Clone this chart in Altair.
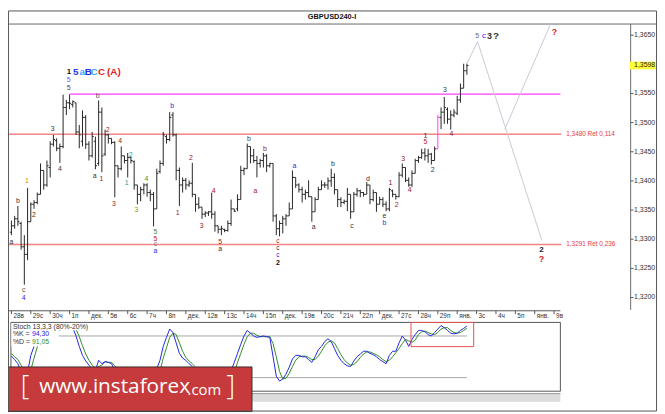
import altair as alt
import pandas as pd

W, H = 657, 406
SX, SY = W / 665.0, H / 414.0


def px(x):
    return round(x * SX, 2)


def py(y):
    return round(y * SY, 2)


FONT = "Liberation Sans"

# ---------------- data ----------------
HIGH = [1.3332, 1.3340, 1.3357, 1.3330, 1.3307, 1.3388, 1.3363, 1.3367, 1.3380, 1.3430,
        1.3418, 1.3435, 1.3468, 1.3479, 1.3473, 1.3464, 1.3548, 1.3539, 1.3548, 1.3538,
        1.3534, 1.3496, 1.3521, 1.3513, 1.3468, 1.3484, 1.3476, 1.3538, 1.3526, 1.3488,
        1.3481, 1.3473, 1.3468, 1.3426, 1.3459, 1.3443, 1.3448, 1.3441, 1.3435, 1.3393,
        1.3390, 1.3396, 1.3396, 1.3385, 1.3381, 1.3421, 1.3435, 1.3484, 1.3479, 1.3518,
        1.3518, 1.3481, 1.3423, 1.3406, 1.3405, 1.3401, 1.3431, 1.3377, 1.3372, 1.3355,
        1.3348, 1.3348, 1.3380, 1.3348, 1.3323, 1.3323, 1.3318, 1.3332, 1.3368, 1.3352,
        1.3377, 1.3426, 1.3423, 1.3464, 1.3459, 1.3455, 1.3443, 1.3438, 1.3448, 1.3446,
        1.3431, 1.3430, 1.3343, 1.3332, 1.3340, 1.3343, 1.3363, 1.3418, 1.3406, 1.3396,
        1.3390, 1.3385, 1.3401, 1.3373, 1.3372, 1.3390, 1.3401, 1.3398, 1.3406, 1.3421,
        1.3413, 1.3385, 1.3372, 1.3368, 1.3388, 1.3377, 1.3381, 1.3388, 1.3385, 1.3381,
        1.3398, 1.3393, 1.3385, 1.3380, 1.3373, 1.3372, 1.3365, 1.3388, 1.3385, 1.3377,
        1.3415, 1.3430, 1.3423, 1.3406, 1.3418, 1.3438, 1.3443, 1.3455, 1.3456, 1.3455,
        1.3448, 1.3459, 1.3513, 1.3526, 1.3544, 1.3526, 1.3521, 1.3523, 1.3546, 1.3567,
        1.3601, 1.3601]
LOW = [1.3307, 1.3318, 1.3323, 1.3282, 1.3222, 1.3264, 1.3330, 1.3352, 1.3360, 1.3377,
       1.3385, 1.3390, 1.3406, 1.3459, 1.3451, 1.3431, 1.3456, 1.3513, 1.3523, 1.3526,
       1.3479, 1.3456, 1.3459, 1.3455, 1.3435, 1.3440, 1.3420, 1.3426, 1.3415, 1.3443,
       1.3464, 1.3463, 1.3372, 1.3406, 1.3418, 1.3430, 1.3406, 1.3430, 1.3385, 1.3360,
       1.3365, 1.3377, 1.3373, 1.3365, 1.3322, 1.3352, 1.3413, 1.3426, 1.3464, 1.3468,
       1.3476, 1.3401, 1.3357, 1.3380, 1.3385, 1.3390, 1.3372, 1.3347, 1.3352, 1.3335,
       1.3338, 1.3340, 1.3335, 1.3313, 1.3310, 1.3307, 1.3312, 1.3313, 1.3323, 1.3347,
       1.3348, 1.3368, 1.3410, 1.3421, 1.3430, 1.3431, 1.3406, 1.3423, 1.3423, 1.3415,
       1.3423, 1.3330, 1.3307, 1.3305, 1.3310, 1.3323, 1.3340, 1.3352, 1.3388, 1.3380,
       1.3363, 1.3368, 1.3372, 1.3330, 1.3347, 1.3368, 1.3385, 1.3388, 1.3385, 1.3390,
       1.3377, 1.3355, 1.3355, 1.3360, 1.3348, 1.3335, 1.3347, 1.3373, 1.3372, 1.3373,
       1.3377, 1.3360, 1.3365, 1.3347, 1.3360, 1.3355, 1.3348, 1.3348, 1.3372, 1.3368,
       1.3372, 1.3406, 1.3398, 1.3390, 1.3390, 1.3413, 1.3431, 1.3438, 1.3435, 1.3431,
       1.3428, 1.3435, 1.3455, 1.3489, 1.3498, 1.3498, 1.3488, 1.3509, 1.3513, 1.3534,
       1.3559, 1.3582]
OPEN = [1.3312, 1.3323, 1.3335, 1.3327, 1.3287, 1.3274, 1.3330, 1.3360, 1.3363, 1.3377,
        1.3418, 1.3393, 1.3423, 1.3463, 1.3469, 1.3456, 1.3459, 1.3526, 1.3534, 1.3531,
        1.3534, 1.3484, 1.3468, 1.3509, 1.3463, 1.3443, 1.3468, 1.3430, 1.3518, 1.3446,
        1.3479, 1.3473, 1.3466, 1.3426, 1.3421, 1.3443, 1.3435, 1.3440, 1.3433, 1.3393,
        1.3377, 1.3385, 1.3393, 1.3380, 1.3377, 1.3352, 1.3416, 1.3430, 1.3476, 1.3471,
        1.3513, 1.3479, 1.3418, 1.3393, 1.3401, 1.3393, 1.3396, 1.3377, 1.3360, 1.3355,
        1.3343, 1.3345, 1.3347, 1.3343, 1.3323, 1.3317, 1.3317, 1.3315, 1.3327, 1.3352,
        1.3352, 1.3368, 1.3418, 1.3421, 1.3459, 1.3443, 1.3435, 1.3430, 1.3435, 1.3443,
        1.3426, 1.3430, 1.3340, 1.3318, 1.3327, 1.3335, 1.3340, 1.3352, 1.3406, 1.3393,
        1.3385, 1.3377, 1.3380, 1.3373, 1.3347, 1.3368, 1.3385, 1.3393, 1.3393, 1.3400,
        1.3406, 1.3385, 1.3368, 1.3363, 1.3365, 1.3377, 1.3347, 1.3377, 1.3383, 1.3380,
        1.3377, 1.3393, 1.3368, 1.3380, 1.3360, 1.3368, 1.3360, 1.3352, 1.3383, 1.3377,
        1.3373, 1.3410, 1.3423, 1.3401, 1.3393, 1.3413, 1.3435, 1.3440, 1.3448, 1.3443,
        1.3446, 1.3435, 1.3455, 1.3509, 1.3518, 1.3523, 1.3506, 1.3513, 1.3516, 1.3539,
        1.3559, 1.3589]
CLOSE = [1.3323, 1.3335, 1.3330, 1.3287, 1.3274, 1.3330, 1.3360, 1.3363, 1.3377, 1.3418,
         1.3393, 1.3426, 1.3463, 1.3471, 1.3456, 1.3459, 1.3526, 1.3534, 1.3533, 1.3536,
         1.3484, 1.3479, 1.3509, 1.3463, 1.3443, 1.3476, 1.3426, 1.3518, 1.3443, 1.3479,
         1.3473, 1.3466, 1.3426, 1.3421, 1.3443, 1.3435, 1.3440, 1.3435, 1.3393, 1.3377,
         1.3385, 1.3393, 1.3380, 1.3377, 1.3352, 1.3413, 1.3430, 1.3479, 1.3471, 1.3509,
         1.3479, 1.3418, 1.3393, 1.3401, 1.3393, 1.3396, 1.3377, 1.3360, 1.3355, 1.3343,
         1.3345, 1.3347, 1.3343, 1.3323, 1.3317, 1.3318, 1.3315, 1.3327, 1.3352, 1.3348,
         1.3368, 1.3418, 1.3421, 1.3459, 1.3443, 1.3435, 1.3430, 1.3435, 1.3443, 1.3426,
         1.3430, 1.3340, 1.3318, 1.3327, 1.3335, 1.3340, 1.3352, 1.3406, 1.3393, 1.3385,
         1.3377, 1.3380, 1.3373, 1.3347, 1.3368, 1.3385, 1.3393, 1.3393, 1.3400, 1.3406,
         1.3385, 1.3368, 1.3363, 1.3365, 1.3377, 1.3347, 1.3377, 1.3383, 1.3380, 1.3377,
         1.3393, 1.3368, 1.3380, 1.3360, 1.3368, 1.3360, 1.3352, 1.3385, 1.3377, 1.3373,
         1.3410, 1.3423, 1.3401, 1.3393, 1.3413, 1.3435, 1.3440, 1.3448, 1.3443, 1.3446,
         1.3435, 1.3455, 1.3509, 1.3518, 1.3526, 1.3506, 1.3513, 1.3518, 1.3539, 1.3559,
         1.3589, 1.3598]
MARKED_BAR = 132

STOCH_K = [51, 46, 40, 28, 12, 28, 52, 65, 75, 85,
           88, 92, 96, 97, 93, 88, 95, 97, 97, 92,
           80, 65, 52, 44, 38, 33, 30, 45, 40, 43,
           42, 40, 30, 28, 35, 33, 30, 32, 25, 15,
           15, 18, 20, 18, 12, 33, 45, 65, 78, 90,
           85, 70, 55, 48, 45, 40, 36, 30, 25, 20,
           12, 12, 14, 20, 12, 8, 6, 8, 30, 42,
           55, 68, 80, 88, 84, 80, 78, 79, 80, 79,
           78, 50, 22, 15, 18, 25, 35, 47, 52, 52,
           50, 50, 46, 42, 50, 60, 65, 72, 76, 72,
           62, 52, 45, 40, 37, 36, 44, 50, 54, 58,
           58, 55, 53, 50, 46, 43, 40, 52, 58, 58,
           70, 80, 74, 65, 75, 82, 88, 88, 86, 82,
           80, 85, 90, 95, 92, 88, 84, 83, 84, 88,
           91, 94.3]
STOCH_D = [55, 50, 46, 38, 27, 23, 31, 48, 64, 75,
           83, 88, 92, 95, 95, 93, 92, 93, 96, 95,
           90, 79, 66, 54, 45, 38, 34, 36, 38, 43,
           42, 42, 37, 33, 31, 32, 33, 32, 29, 24,
           18, 16, 18, 19, 17, 21, 30, 48, 63, 78,
           84, 82, 70, 58, 49, 44, 40, 35, 30, 25,
           19, 15, 13, 15, 15, 13, 9, 7, 15, 27,
           42, 55, 68, 79, 84, 84, 81, 79, 79, 79,
           79, 69, 50, 29, 18, 19, 26, 36, 45, 50,
           51, 51, 49, 46, 46, 51, 58, 66, 71, 73,
           70, 62, 53, 46, 41, 38, 39, 43, 49, 54,
           57, 57, 55, 53, 50, 46, 43, 45, 50, 56,
           62, 69, 75, 73, 71, 74, 82, 86, 87, 85,
           83, 82, 85, 90, 92, 92, 88, 85, 84, 85,
           88, 91.05]

DAY_LABELS = ['28в', '29с', '30ч', '1п', 'дек.', '5в', '6с', '7ч', '8п', 'дек.',
              '12в', '13с', '14ч', '15п', 'дек.', '19в', '20с', '21ч', '22п', 'дек.',
              '27с', '28ч', '29п', 'янв.', '3с', '4ч', '5п', 'янв.', '9в']
BARS_PER_DAY = 6
PRICE_TICKS = [1.3200, 1.3250, 1.3300, 1.3350, 1.3400, 1.3450, 1.3500, 1.3550, 1.3650]
LAST_PRICE = 1.3598
RET_LEVELS = [1.3480, 1.3291]
RET_TEXT = ['1,3480 Ret 0,114', '1,3291 Ret 0,236']
MAGENTA_LEVEL = 1.3549
MAGENTA_FROM = 18

FC_SEG = ['main', 'main', 'main', 'alt', 'alt']
FC_I = [141, 144.3, 164.2, 152.7, 166.9]
FC_P = [1.3601, 1.3639, 1.3298, 1.3488, 1.3669]

# (bar index, price, text, colour, size, bold)
WAVE_LABELS = [
    (17.7, 1.3573, '5', '#5a5aff', 7, False), (17.7, 1.3560, '5', '#444444', 7, False),
    (26.7, 1.3545, 'b', '#555555', 7, False), (12.8, 1.3489, '3', '#333333', 7, False),
    (29.8, 1.3488, '2', '#8b1a1a', 7, False), (33.7, 1.3469, '4', '#8b1a1a', 7, False),
    (49.8, 1.3528, 'b', '#2a2ae0', 7, False), (73.5, 1.3472, 'b', '#444444', 7, False),
    (78.5, 1.3454, 'b', '#a01818', 7, False), (2.0, 1.3365, 'b', '#333333', 7, False),
    (0.0, 1.3296, 'a', '#333333', 7, False), (4.8, 1.3399, '1', '#d08a00', 7, False),
    (7.0, 1.3342, '2', '#5a2a00', 7, False), (15.0, 1.3421, '4', '#333355', 7, False),
    (3.8, 1.3212, 'c', '#555555', 7, False), (3.8, 1.3199, '4', '#2a2ae0', 7, False),
    (25.8, 1.3409, 'a', '#333333', 7, False), (27.9, 1.3403, '1', '#a01818', 7, False),
    (31.7, 1.3361, '3', '#a01818', 7, False), (36.9, 1.3445, '2', '#20a090', 7, False),
    (35.7, 1.3396, '1', '#20a090', 7, False), (38.7, 1.3350, '3', '#8a9a00', 7, False),
    (41.8, 1.3404, '4', '#3a9a20', 7, False), (44.6, 1.3313, '5', '#2e8b2e', 7, False),
    (44.6, 1.3301, '5', '#c02020', 7, False), (44.6, 1.3291, 'c', '#777777', 7, False),
    (44.6, 1.3280, 'a', '#2a2ae0', 7, False), (51.5, 1.3345, '1', '#a01818', 7, False),
    (55.6, 1.3440, '2', '#a01818', 7, False), (58.9, 1.3323, '3', '#a01818', 7, False),
    (62.6, 1.3382, '4', '#a01818', 7, False), (64.6, 1.3296, '5', '#a01818', 7, False),
    (64.6, 1.3284, 'a', '#333333', 7, False), (75.5, 1.3382, 'a', '#a01818', 7, False),
    (82.5, 1.3297, 'c', '#a01818', 6.5, False), (82.5, 1.3285, 'c', '#333333', 6.5, False),
    (82.5, 1.3273, 'c', '#2a2ae0', 6.5, False), (87.6, 1.3425, 'a', '#2a2ae0', 7, False),
    (93.6, 1.3321, 'a', '#333333', 7, False), (99.5, 1.3429, 'b', '#333333', 7, False),
    (105.4, 1.3322, 'c', '#333333', 7, False), (110.4, 1.3404, 'd', '#333333', 7, False),
    (115.5, 1.3340, 'e', '#333333', 7, False), (115.5, 1.3327, 'b', '#2a2ae0', 7, False),
    (117.3, 1.3396, '1', '#a01818', 7, False), (119.3, 1.3359, '2', '#a01818', 7, False),
    (121.3, 1.3437, '3', '#a01818', 7, False), (123.3, 1.3384, '4', '#a01818', 7, False),
    (130.4, 1.3418, '2', '#333333', 7, False), (128.2, 1.3477, '1', '#333333', 7, False),
    (128.2, 1.3466, '5', '#c02020', 7, False), (136.2, 1.3480, '4', '#8b1a1a', 7, False),
    (134.2, 1.3556, '3', '#333333', 7, False), (144.2, 1.3649, '5', '#666666', 7, False),
    (146.3, 1.3649, 'c', '#2a2ae0', 8, False),
    (17.8, 1.3587, '1', '#111111', 8, True), (19.9, 1.3587, '5', '#3535e8', 10, True),
    (21.9, 1.3587, 'a', '#3aa0ff', 10, True), (23.8, 1.3587, 'B', '#2a2ad8', 10, True),
    (25.6, 1.3587, 'C', '#3aa0ff', 10, True), (27.9, 1.3587, 'C', '#e02424', 10, True),
    (31.7, 1.3587, '(A)', '#e02424', 10, True), (82.5, 1.3260, '2', '#111111', 7, True),
    (148.0, 1.3649, '3', '#333333', 9, True), (150.0, 1.3649, '?', '#333333', 10, True),
    (168.1, 1.3655, '?', '#e02020', 9, True), (164.1, 1.3281, '2', '#222222', 8, True),
    (164.1, 1.3266, '?', '#e02020', 9, True),
]

STOCH_BOX = dict(i1=123.7, i2=143.1, v1=64.7, v2=99.5)
STOCH_LEVELS = [80, 20]

# ---------------- scales ----------------
XS = alt.Scale(domain=[0, 141], range=[px(3.5), px(470.21)], nice=False, zero=False)
YP = alt.Scale(domain=[1.3200, 1.3650], range=[py(296.3), py(25.5)], nice=False, zero=False)
YS = alt.Scale(domain=[0, 100], range=[py(393.3), py(321.7)], nice=False, zero=False)

one = pd.DataFrame({'k': [0]})


def box(x1, y1, x2, y2, **kw):
    return alt.Chart(one).mark_rect(**kw).encode(
        x=alt.value(px(x1)), x2=alt.value(px(x2)), y=alt.value(py(y1)), y2=alt.value(py(y2)))


def hline(x1, x2, y, color, width=1):
    return alt.Chart(one).mark_rule(color=color, strokeWidth=width).encode(
        x=alt.value(px(x1)), x2=alt.value(px(x2)), y=alt.value(py(y)))


def vline(x, y1, y2, color, width=1):
    return alt.Chart(one).mark_rule(color=color, strokeWidth=width).encode(
        x=alt.value(px(x)), y=alt.value(py(y1)), y2=alt.value(py(y2)))


def ptext(x, y, text, **kw):
    base = dict(font=FONT, fontSize=7, baseline='middle', align='left', color='#333333')
    base.update(kw)
    return alt.Chart(one).mark_text(text=text, **base).encode(
        x=alt.value(px(x)), y=alt.value(py(y)))


layers = []

# frame lines
layers.append(hline(0, 665, 14, '#6a6a6a'))
layers.append(ptext(332, 6.5, 'GBPUSD240-I', fontWeight='bold', fontSize=7.5, align='center',
                    color='#111111'))

# level lines
lvl = pd.DataFrame({'p': RET_LEVELS, 't': RET_TEXT})
layers.append(alt.Chart(lvl).mark_rule(color='#f08484', strokeWidth=1.6).encode(
    x=alt.value(px(0)), x2=alt.value(px(567)), y=alt.Y('p:Q', scale=YP, axis=None)))
layers.append(alt.Chart(lvl).mark_text(font=FONT, fontSize=6.5, align='left', baseline='middle',
                                       color='#e83a3a').encode(
    x=alt.value(px(572)), y=alt.Y('p:Q', scale=YP, axis=None), text='t:N'))
mag = pd.DataFrame({'i': [MAGENTA_FROM], 'p': [MAGENTA_LEVEL]})
layers.append(alt.Chart(mag).mark_rule(color='#ff3cff', strokeWidth=1.3).encode(
    x=alt.X('i:Q', scale=XS, axis=None), x2=alt.value(px(566)),
    y=alt.Y('p:Q', scale=YP, axis=None)))

# forecast lines
fc = pd.DataFrame({'seg': FC_SEG, 'i': FC_I, 'p': FC_P})
layers.append(alt.Chart(fc).mark_line(color='#cdc6d6', strokeWidth=1).encode(
    x=alt.X('i:Q', scale=XS, axis=None), y=alt.Y('p:Q', scale=YP, axis=None),
    detail='seg:N'))

# OHLC bars
bars = pd.DataFrame({'i': list(range(len(HIGH))), 'o': OPEN, 'h': HIGH, 'l': LOW, 'c': CLOSE})
bcol = alt.condition(f'datum.i == {MARKED_BAR}', alt.value('#ff3cff'), alt.value('#262626'))
bbase = alt.Chart(bars).transform_calculate(x0='datum.i - 0.5', x1='datum.i + 0.5')
layers.append(bbase.mark_rule(strokeWidth=1).encode(
    x=alt.X('i:Q', scale=XS, axis=None), y=alt.Y('l:Q', scale=YP, axis=None), y2='h:Q',
    color=bcol))
layers.append(bbase.mark_rule(strokeWidth=1).encode(
    x=alt.X('x0:Q', scale=XS, axis=None), x2='i:Q', y=alt.Y('o:Q', scale=YP, axis=None),
    color=bcol))
layers.append(bbase.mark_rule(strokeWidth=1).encode(
    x=alt.X('i:Q', scale=XS, axis=None), x2='x1:Q', y=alt.Y('c:Q', scale=YP, axis=None),
    color=bcol))

# wave labels
wl = pd.DataFrame(WAVE_LABELS, columns=['i', 'p', 't', 'col', 's', 'b'])
for bold in (False, True):
    d = wl[wl['b'] == bold].drop(columns=['b'])
    layers.append(alt.Chart(d).mark_text(
        font=FONT, align='center', baseline='middle',
        fontWeight='bold' if bold else 'normal').encode(
        x=alt.X('i:Q', scale=XS, axis=None), y=alt.Y('p:Q', scale=YP, axis=None),
        text='t:N', color=alt.Color('col:N', scale=None), size=alt.Size('s:Q', scale=None)))

# price axis
layers.append(vline(638, 14, 309, '#6a6a6a'))
pt = pd.DataFrame({'p': PRICE_TICKS})
layers.append(alt.Chart(pt).mark_rule(color='#555555').encode(
    x=alt.value(px(638)), x2=alt.value(px(641)), y=alt.Y('p:Q', scale=YP, axis=None)))
layers.append(alt.Chart(pt).transform_calculate(
    t="replace(format(datum.p, '.4f'), '.', ',')").mark_text(
    font=FONT, fontSize=7, align='left', baseline='middle', color='#333333').encode(
    x=alt.value(px(641.5)), y=alt.Y('p:Q', scale=YP, axis=None), text='t:N'))
lp = pd.DataFrame({'p': [LAST_PRICE], 'p1': [LAST_PRICE + 0.00065], 'p2': [LAST_PRICE - 0.00065]})
layers.append(alt.Chart(lp).mark_rect(color='#ffff33').encode(
    x=alt.value(px(637)), x2=alt.value(px(665)), y=alt.Y('p1:Q', scale=YP, axis=None),
    y2='p2:Q'))
layers.append(alt.Chart(lp).transform_calculate(
    t="replace(format(datum.p, '.4f'), '.', ',')").mark_text(
    font=FONT, fontSize=7, align='left', baseline='middle', color='#222222').encode(
    x=alt.value(px(641.5)), y=alt.Y('p:Q', scale=YP, axis=None), text='t:N'))

# date axis
layers.append(hline(0, 566, 310, '#555555'))
days = pd.DataFrame({'i': [BARS_PER_DAY * k for k in range(len(DAY_LABELS))], 't': DAY_LABELS})
layers.append(alt.Chart(days).mark_rule(color='#555555').encode(
    x=alt.X('i:Q', scale=XS, axis=None), y=alt.value(py(310)), y2=alt.value(py(313.5))))
layers.append(alt.Chart(days).mark_text(font=FONT, fontSize=6.5, align='left', baseline='middle',
                                        color='#333333', dx=2).encode(
    x=alt.X('i:Q', scale=XS, axis=None), y=alt.value(py(315.5)), text='t:N'))

# stochastic panel
layers.append(box(3, 322, 566, 393, fill='white', stroke='#555555', strokeWidth=1))
sl = pd.DataFrame({'v': STOCH_LEVELS, 'i0': [0, 0], 'i1': [141, 141]})
layers.append(alt.Chart(sl).mark_rule(color='#a8a8a8', strokeWidth=1).encode(
    x=alt.X('i0:Q', scale=XS, axis=None), x2='i1:Q', y=alt.Y('v:Q', scale=YS, axis=None)))
st = pd.DataFrame({'i': list(range(len(STOCH_K))), 'k': STOCH_K, 'd': STOCH_D})
layers.append(alt.Chart(st).mark_line(color='#2b8f2b', strokeWidth=1).encode(
    x=alt.X('i:Q', scale=XS, axis=None), y=alt.Y('d:Q', scale=YS, axis=None)))
layers.append(alt.Chart(st).mark_line(color='#2424e0', strokeWidth=1).encode(
    x=alt.X('i:Q', scale=XS, axis=None), y=alt.Y('k:Q', scale=YS, axis=None)))
sb = pd.DataFrame([STOCH_BOX])
layers.append(alt.Chart(sb).mark_rect(fill=None, stroke='#e85050', strokeWidth=1).encode(
    x=alt.X('i1:Q', scale=XS, axis=None), x2='i2:Q', y=alt.Y('v1:Q', scale=YS, axis=None),
    y2='v2:Q'))
layers.append(box(3.5, 322.5, 83, 330, fill='white'))
layers.append(box(3.5, 330, 52, 347, fill='white'))
layers.append(ptext(5, 326.3, 'Stoch 13,3,3 (80%-20%)', color='#333333'))
layers.append(ptext(5, 334.2, '%K =', color='#333333'))
layers.append(ptext(24.5, 334.2, f"{STOCH_K[-1]:.2f}".replace('.', ','), color='#2424e0'))
layers.append(ptext(5, 342.2, '%D =', color='#333333'))
layers.append(ptext(24.5, 342.2, f"{STOCH_D[-1]:.2f}".replace('.', ','), color='#2b8f2b'))

# scroll strip
layers.append(box(3, 395, 566, 404, fill='#dcdcdc'))
layers.append(hline(3, 566, 395.5, '#9a9a9a'))

# banner
layers.append(box(0, 368, 250, 414, fill='#c63a3c', stroke='#3a2a2a', strokeWidth=1))
layers.append(ptext(13, 389, '[', font='Open Sans', fontSize=27, fontWeight=300, color='white'))
layers.append(ptext(32, 389, 'www.instaforex', font='Open Sans', fontSize=21, color='white'))
layers.append(ptext(184, 392, '.com', font='Open Sans', fontSize=15, color='white'))
layers.append(ptext(224, 389, ']', font='Open Sans', fontSize=27, fontWeight=300, color='white'))

# outer frame
layers.append(box(0.5, 0.5, 664.5, 413.5, fill=None, stroke='#555555', strokeWidth=1))

chart = alt.layer(*layers).resolve_scale(y='independent').properties(
    width=W, height=H, autosize=alt.AutoSizeParams(type='none'), padding=0,
    background='white').configure_view(stroke=None)

chart.save("out.html", embed_options={"renderer": "svg", "actions": False})
